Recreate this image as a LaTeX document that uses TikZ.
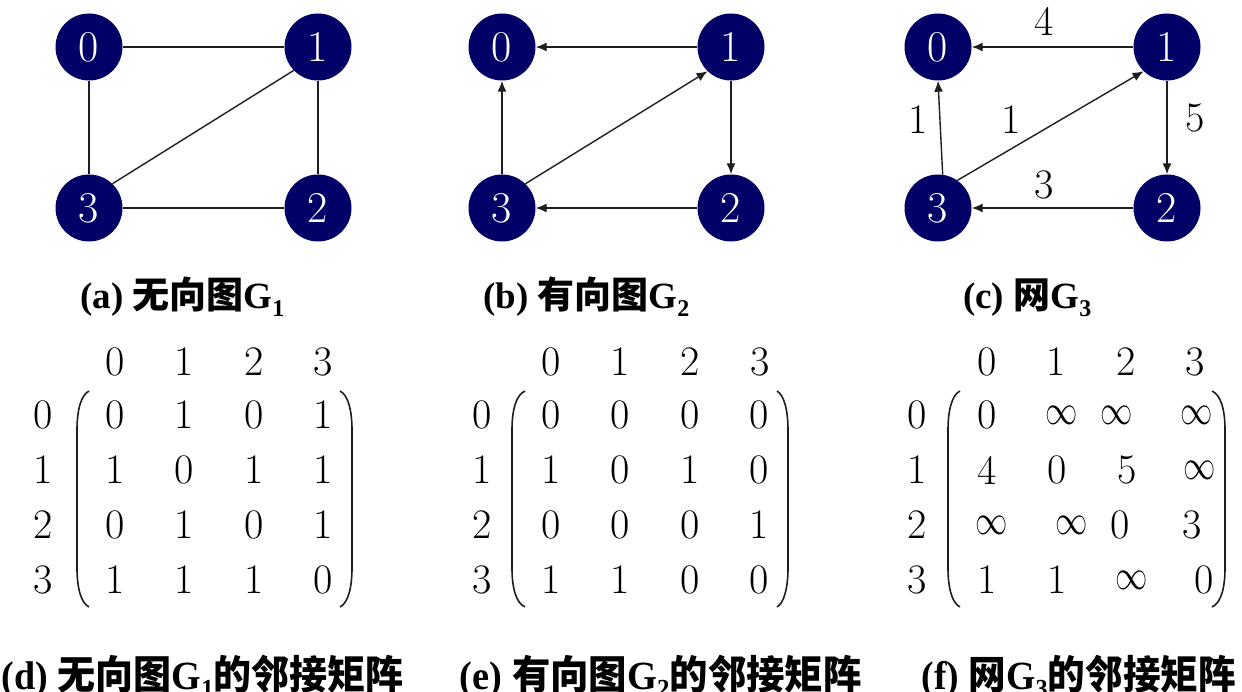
\documentclass[tikz,border=0pt]{standalone}
\usepackage{fontspec}
\newfontfamily\capser{Liberation Serif}
\newfontfamily\cjk{Noto Sans CJK SC}
\usetikzlibrary{arrows.meta}
\definecolor{navy}{RGB}{0,0,102}
\definecolor{edgecol}{RGB}{30,30,30}
\tikzset{
 vert/.style={circle, fill=navy, text=white, minimum size=67pt, inner sep=0pt, font=\fontsize{44}{44}\selectfont},
 edge/.style={line width=1.4pt, draw=edgecol},
 arc/.style={edge, -{Latex[length=11pt,width=9pt]}},
 num/.style={inner sep=0pt, font=\fontsize{42}{42}\selectfont},
 capt/.style={inner sep=0pt, font=\capser\bfseries\fontsize{37}{37}\selectfont},
 capb/.style={inner sep=0pt, font=\capser\bfseries\fontsize{40}{40}\selectfont},
 paren/.style={line width=1.6pt, draw=edgecol},
}
\newcommand\zh[1]{{\cjk\bfseries #1}}
\newcommand\subt[1]{\raisebox{-8pt}{\fontsize{24}{24}\selectfont #1}}
\newcommand\subb[1]{\raisebox{-8pt}{\fontsize{26}{26}\selectfont #1}}
\newcommand\inff{\scalebox{1.3}[1.7]{$\infty$}}
\newcommand\fitw[2]{\resizebox{#1}{\height}{#2}}
\newcommand\lpar[2]{\draw[paren] (#2,391) .. controls (#1+4,395) and (#1,410) .. (#1,430) -- (#1,568) .. controls (#1,588) and (#1+4,603) .. (#2,607);}
\newcommand\rpar[2]{\draw[paren] (#2,391) .. controls (#1-4,395) and (#1,410) .. (#1,430) -- (#1,568) .. controls (#1,588) and (#1-4,603) .. (#2,607);}
\begin{document}
\begin{tikzpicture}[x=1pt,y=-1pt]
\useasboundingbox (0,0) rectangle (1242,692);

% ---------- (a) ----------
\node[vert] (a0) at (89,47) {0};
\node[vert] (a1) at (318,47) {1};
\node[vert] (a2) at (318,208) {2};
\node[vert] (a3) at (89,208) {3};
\draw[edge] (a0) -- (a1);
\draw[edge] (a0) -- (a3);
\draw[edge] (a1) -- (a2);
\draw[edge] (a3) -- (a2);
\draw[edge] (a3.46) -- (a1.224);
\node[capt, anchor=base west] (capa) at (80,309) {(a) \zh{无向图}G\subt{1}};

% ---------- (b) ----------
\node[vert] (b0) at (502,47) {0};
\node[vert] (b1) at (731,47) {1};
\node[vert] (b2) at (731,208) {2};
\node[vert] (b3) at (502,208) {3};
\draw[arc] (b1) -- (b0);
\draw[arc] (b3) -- (b0);
\draw[arc] (b3.46) -- (b1.226);
\draw[arc] (b1) -- (b2);
\draw[arc] (b2) -- (b3);
\node[capt, anchor=base west] (capb) at (483,309) {(b) \zh{有向图}G\subt{2}};

% ---------- (c) ----------
\node[vert] (c0) at (938,47) {0};
\node[vert] (c1) at (1167,47) {1};
\node[vert] (c2) at (1167,208) {2};
\node[vert] (c3) at (938,208) {3};
\draw[arc] (c1) -- (c0);
\draw[arc] (c3.82) -- (c0.south);
\draw[arc] (c3.55) -- (c1.226);
\draw[arc] (c1) -- (c2);
\draw[arc] (c2) -- (c3);
\node[num] (w10) at (1044,21) {4};
\node[num] (w12) at (1195,118) {5};
\node[num] (w30) at (918,120) {1};
\node[num] (w31) at (1011,120) {1};
\node[num] (w23) at (1044,185) {3};
\node[capt, anchor=base west] (capc) at (963,309) {(c) \zh{网}G\subt{3}};

% ---------- (d) matrix ----------
\foreach \x/\v in {115/0,184/1,254/2,323/3} \node[num] (dh\v) at (\x,362) {\v};
\foreach \y/\v in {415/0,470/1,525/2,580/3} \node[num] (dr\v) at (43,\y) {\v};
\foreach \x/\v/\c in {115/0/0,184/1/1,254/0/2,323/1/3} \node[num] (d0\c) at (\x,415) {\v};
\foreach \x/\v/\c in {115/1/0,184/0/1,254/1/2,323/1/3} \node[num] (d1\c) at (\x,470) {\v};
\foreach \x/\v/\c in {115/0/0,184/1/1,254/0/2,323/1/3} \node[num] (d2\c) at (\x,525) {\v};
\foreach \x/\v/\c in {115/1/0,184/1/1,254/1/2,323/0/3} \node[num] (d3\c) at (\x,580) {\v};
\lpar{77}{89}
\rpar{352}{340}
\node[capb, anchor=base east] (capd) at (404,689) {\fitw{402pt}{(d) \zh{无向图}G\subb{1}\zh{的邻接矩阵}}};

% ---------- (e) matrix ----------
\foreach \x/\v in {551/0,620/1,690/2,760/3} \node[num] (eh\v) at (\x,362) {\v};
\foreach \y/\v in {415/0,470/1,525/2,580/3} \node[num] (er\v) at (482,\y) {\v};
\foreach \x/\v/\c in {551/0/0,620/0/1,690/0/2,759/0/3} \node[num] (e0\c) at (\x,415) {\v};
\foreach \x/\v/\c in {551/1/0,620/0/1,690/1/2,759/0/3} \node[num] (e1\c) at (\x,470) {\v};
\foreach \x/\v/\c in {551/0/0,620/0/1,690/0/2,759/1/3} \node[num] (e2\c) at (\x,525) {\v};
\foreach \x/\v/\c in {551/1/0,620/1/1,690/0/2,759/0/3} \node[num] (e3\c) at (\x,580) {\v};
\lpar{512}{525}
\rpar{788}{777}
\node[capb, anchor=base east] (cape) at (862,689) {\fitw{402pt}{(e) \zh{有向图}G\subb{2}\zh{的邻接矩阵}}};

% ---------- (f) matrix ----------
\foreach \x/\v in {987/0,1056/1,1126/2,1195/3} \node[num] (fh\v) at (\x,362) {\v};
\foreach \y/\v in {415/0,470/1,525/2,580/3} \node[num] (fr\v) at (917,\y) {\v};
\foreach \x/\v/\c in {987/0/0,1062/\inff/1,1117/\inff/2,1197/\inff/3} \node[num] (f0\c) at (\x,415) {\v};
\foreach \x/\v/\c in {987/4/0,1057/0/1,1127/5/2,1200/\inff/3} \node[num] (f1\c) at (\x,470) {\v};
\foreach \x/\v/\c in {992/\inff/0,1072/\inff/1,1120/0/2,1192/3/3} \node[num] (f2\c) at (\x,525) {\v};
\foreach \x/\v/\c in {987/1/0,1057/1/1,1132/\inff/2,1204/0/3} \node[num] (f3\c) at (\x,580) {\v};
\lpar{948}{960}
\rpar{1225}{1212}
\node[capb, anchor=base east] (capf) at (1236,689) {\fitw{314pt}{(f) \zh{网}G\subb{3}\zh{的邻接矩阵}}};
\end{tikzpicture}
\end{document}
